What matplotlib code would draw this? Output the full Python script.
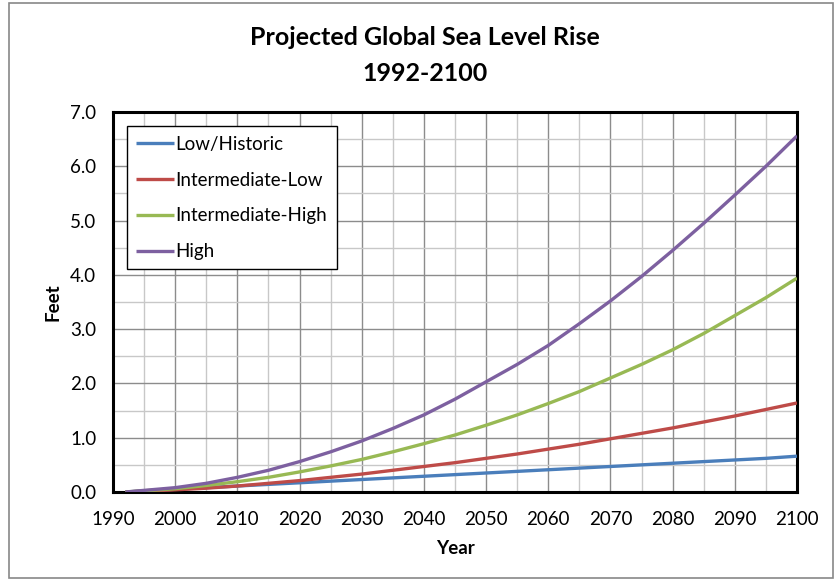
import numpy as np
import matplotlib
matplotlib.use('Agg')
import matplotlib.pyplot as plt
from matplotlib.patches import Rectangle
from matplotlib.ticker import MultipleLocator, FormatStrFormatter

plt.rcParams['font.family'] = ['Lato', 'DejaVu Sans']

years = [1992, 2000, 2005, 2010, 2015, 2020, 2025, 2030, 2035, 2040, 2045, 2050,
         2055, 2060, 2065, 2070, 2075, 2080, 2085, 2090, 2095, 2100]
low_historic = [0.0, 0.05, 0.08, 0.11, 0.14, 0.17, 0.20, 0.23, 0.26, 0.29, 0.32, 0.35,
                0.38, 0.41, 0.44, 0.47, 0.50, 0.53, 0.56, 0.59, 0.62, 0.66]
intermediate_low = [0.0, 0.04, 0.07, 0.11, 0.16, 0.21, 0.27, 0.33, 0.40, 0.47, 0.54, 0.62,
                    0.70, 0.79, 0.88, 0.98, 1.08, 1.18, 1.29, 1.40, 1.52, 1.64]
intermediate_high = [0.0, 0.06, 0.12, 0.19, 0.27, 0.37, 0.48, 0.60, 0.74, 0.89, 1.05, 1.23,
                     1.42, 1.63, 1.85, 2.10, 2.35, 2.62, 2.92, 3.25, 3.58, 3.94]
high = [0.0, 0.08, 0.16, 0.27, 0.40, 0.56, 0.74, 0.94, 1.17, 1.42, 1.71, 2.03,
        2.35, 2.70, 3.10, 3.52, 3.97, 4.45, 4.95, 5.47, 6.00, 6.56]

series = ['Low/Historic', 'Intermediate-Low', 'Intermediate-High', 'High']
colors = ['#4A7EBB', '#BE4B48', '#98B954', '#7D60A0']

fig = plt.figure(figsize=(8.38, 5.8), dpi=100)
ax = fig.add_axes([113/838, 1 - 492/580, (797 - 113)/838, (492 - 112)/580])

for vals, name, c in zip([low_historic, intermediate_low, intermediate_high, high], series, colors):
    ax.plot(years, vals, color=c, lw=2.4, label=name, solid_capstyle='butt', zorder=3)

ax.set_xlim(1990, 2100)
ax.set_ylim(0, 7)
ax.xaxis.set_major_locator(MultipleLocator(10))
ax.xaxis.set_minor_locator(MultipleLocator(5))
ax.yaxis.set_major_locator(MultipleLocator(1))
ax.yaxis.set_minor_locator(MultipleLocator(0.5))
ax.yaxis.set_major_formatter(FormatStrFormatter('%.1f'))
ax.grid(which='major', color='#8c8c8c', lw=1.0, zorder=0)
ax.grid(which='minor', color='#c8c8c8', lw=1.0, zorder=0)
ax.set_axisbelow(True)
ax.tick_params(which='both', length=0, labelsize=13.5)
ax.tick_params(axis='x', pad=14)
ax.tick_params(axis='y', pad=12)
for s in ax.spines.values():
    s.set_linewidth(2.2)
    s.set_color('black')

ax.set_xlabel('Year', fontsize=13.5, fontweight='bold', labelpad=8)
ax.set_ylabel('Feet', fontsize=13.5, fontweight='bold', labelpad=6)
fig.text(0.507, 0.935, 'Projected Global Sea Level Rise', ha='center', va='center',
         fontsize=18, fontweight='bold')
fig.text(0.507, 0.874, '1992-2100', ha='center', va='center', fontsize=18, fontweight='bold')

leg = ax.legend(loc='upper left', bbox_to_anchor=(0.02, 0.962), fontsize=13.5,
                frameon=True, fancybox=False, framealpha=1, edgecolor='black',
                handlelength=2.0, handletextpad=0.1, labelspacing=1.0,
                borderpad=0.5, borderaxespad=0)
leg.get_frame().set_linewidth(1.0)

fig.patches.append(Rectangle((9/838, 2/580), 824/838, 575/580, transform=fig.transFigure,
                             fill=False, edgecolor='#888888', lw=1.2))

fig.savefig('out.png', dpi=100)
